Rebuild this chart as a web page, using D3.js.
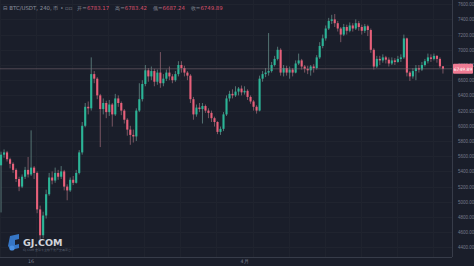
<!DOCTYPE html>
<html>
<head>
<meta charset="utf-8">
<script src="https://cdn.jsdelivr.net/npm/d3@7"></script>
<style>
  body { margin: 0; background: #1a1e2a; }
  svg { display: block; font-family: "DejaVu Sans", sans-serif; }
</style>
</head>
<body>
<svg id="chart"></svg>
<script>
// BTC/USDT 240 candles (open = previous close)
const firstOpen = 5480
const closes = [
  5620, 5650, 5560, 5500, 5420, 5300, 5200, 5330, 5420, 5360,
  5450, 5380, 4900, 4560, 4820, 5100, 5320, 5280, 5380, 5330,
  5400, 5200, 5150, 5290, 5250, 5380, 5650, 6000, 6250, 6230,
  6680, 6620, 6400, 6220, 6300, 6180, 6280, 6150, 6360, 6300,
  6200, 6080, 5950, 5880, 5860, 6200, 6350, 6550, 6730, 6650,
  6720, 6580, 6700, 6560, 6620, 6700, 6650, 6600, 6680, 6800,
  6760, 6700, 6660, 6350, 6150, 6240, 6220, 6260, 6200, 6170,
  6100, 6050, 5920, 5960, 6150, 6360, 6420, 6400, 6450, 6490,
  6440, 6460, 6380, 6320, 6250, 6200, 6620, 6680, 6700, 6720,
  6800, 6880, 7000, 6700, 6760, 6700, 6740, 6700, 6820, 6860,
  6780, 6750, 6730, 6780, 6760, 6900, 7050, 7150, 7280, 7380,
  7400, 7350, 7280, 7200, 7300, 7250, 7320, 7280, 7350, 7300,
  7250, 7310, 7260, 7000, 6780, 6880, 6860, 6900, 6870, 6820,
  6860, 6840, 6880, 6900, 7150, 6700, 6650, 6720, 6760, 6740,
  6800, 6850, 6900, 6880, 6920, 6880, 6783.17, 6749.89
]
const highs = [
  5660, 5690, 5670, 5580, 5520, 5440, 5330, 5360, 5460, 5590,
  5940, 5470, 5400, 4950, 4870, 5160, 5380, 5400, 5450, 5420,
  5470, 5420, 5230, 5320, 5340, 5420, 5680, 6050, 6300, 6320,
  6900, 6720, 6640, 6420, 6360, 6330, 6340, 6300, 6420, 6400,
  6320, 6220, 6100, 6000, 5950, 6230, 6560, 6600, 6800, 6760,
  6780, 6750, 6740, 6970, 6680, 6740, 6780, 6680, 6720, 6850,
  6850, 6790, 6720, 6680, 6380, 6280, 6300, 6300, 6280, 6230,
  6200, 6120, 6060, 5990, 6180, 6400, 6460, 6480, 6520, 6510,
  6530, 6520, 6480, 6400, 6340, 6270, 6660, 6720, 6760, 7220,
  6840, 6920, 7040, 7020, 6800, 6790, 6780, 6760, 6860, 6950,
  6880, 6800, 6790, 6800, 6810, 6930, 7100, 7200, 7320, 7420,
  7460, 7470, 7380, 7300, 7340, 7330, 7360, 7350, 7400, 7380,
  7330, 7340, 7330, 7280, 7020, 6920, 6920, 6940, 6920, 6900,
  6900, 6890, 6920, 6940, 7200, 7160, 6720, 6760, 6800, 6800,
  6840, 6880, 6950, 6940, 6950, 6930, 6900, 6783.42
]
const lows = [
  4860, 5580, 5530, 5440, 5380, 5260, 5140, 5180, 5300, 5320,
  5340, 5300, 4850, 4430, 4520, 4780, 5080, 5230, 5250, 5290,
  5300, 5150, 5020, 5130, 5220, 5240, 5360, 5620, 5980, 6150,
  6200, 6560, 6350, 5720, 6150, 6100, 6130, 5990, 6130, 6250,
  6140, 6030, 5870, 5750, 5780, 5800, 6180, 6320, 6520, 6580,
  6600, 6520, 6540, 6500, 6520, 6590, 6600, 6560, 6580, 6650,
  6700, 6650, 6600, 6300, 6080, 6120, 6180, 6030, 6170, 6100,
  6050, 5990, 5890, 5880, 5930, 6130, 6320, 6360, 6380, 6400,
  6400, 6410, 6340, 6290, 6200, 6160, 6190, 6580, 6640, 6660,
  6700, 6780, 6860, 6660, 6650, 6660, 6620, 6650, 6690, 6800,
  6740, 6700, 6680, 6660, 6700, 6740, 6880, 7020, 7120, 7260,
  7340, 7300, 7240, 7100, 7180, 7200, 7230, 7240, 7260, 7250,
  7200, 7220, 7180, 6960, 6740, 6760, 6800, 6830, 6820, 6780,
  6800, 6800, 6830, 6840, 6880, 6650, 6590, 6620, 6600, 6700,
  6720, 6780, 6820, 6840, 6860, 6830, 6760, 6687.24
]

const yTicks = [7600, 7400, 7200, 7000, 6800, 6600, 6400, 6200, 6000,
                5800, 5600, 5400, 5200, 5000, 4800, 4600, 4400]
const xTickIndex = [10, 81]
const xTickText = ['16', '4月']
const legendKeys = ['开', '高', '低', '收']
const legendVals = ['6783.17', '6783.42', '6687.24', '6749.89']

const W = 474, H = 266
const plotRight = 452, plotBottom = 257

const candles = closes.map((c, i) => ({
  i: i,
  open: i === 0 ? firstOpen : closes[i - 1],
  close: c,
  high: highs[i],
  low: lows[i]
}))

const svg = d3.select('#chart').attr('width', W).attr('height', H)

svg.append('rect').attr('width', W).attr('height', H).attr('fill', '#1a1e2a')

const x = d3.scaleBand()
  .domain(candles.map(d => d.i))
  .range([0, 444])
  .paddingInner(0.3)

const y = d3.scaleLinear()
  .domain([4274, 7655])
  .range([plotBottom, 0])

// grid
const grid = svg.append('g')
grid.selectAll('line.h')
  .data(yTicks)
  .join('line')
    .attr('class', 'h')
    .attr('x1', 0).attr('x2', plotRight)
    .attr('y1', d => Math.round(y(d)) + 0.5).attr('y2', d => Math.round(y(d)) + 0.5)
    .attr('stroke', '#20242f')
grid.selectAll('line.v')
  .data(d3.range(0, closes.length, 12))
  .join('line')
    .attr('class', 'v')
    .attr('x1', d => Math.round(x(d)) + 0.5).attr('x2', d => Math.round(x(d)) + 0.5)
    .attr('y1', 0).attr('y2', plotBottom)
    .attr('stroke', '#1f232e')

// candles
const upCol = '#2bb597', downCol = '#e8607a'
const g = svg.append('g')
g.selectAll('line.wick')
  .data(candles)
  .join('line')
    .attr('class', 'wick')
    .attr('x1', d => x(d.i) + x.bandwidth() / 2)
    .attr('x2', d => x(d.i) + x.bandwidth() / 2)
    .attr('y1', d => y(d.high))
    .attr('y2', d => y(d.low))
    .attr('stroke', d => d.close >= d.open ? '#6f9c95' : '#a8707e')
    .attr('stroke-opacity', 0.85)
    .attr('stroke-width', 0.8)
g.selectAll('rect.body')
  .data(candles)
  .join('rect')
    .attr('class', 'body')
    .attr('x', d => x(d.i))
    .attr('width', x.bandwidth())
    .attr('y', d => y(Math.max(d.open, d.close)))
    .attr('height', d => Math.max(1, Math.abs(y(d.open) - y(d.close))))
    .attr('fill', d => d.close >= d.open ? upCol : downCol)

// last price line
const last = closes[closes.length - 1]
svg.append('line')
  .attr('x1', 0).attr('x2', plotRight)
  .attr('y1', y(last)).attr('y2', y(last))
  .attr('stroke', '#7d6a73').attr('stroke-width', 0.7).attr('stroke-opacity', 0.8)

// axes frame
svg.append('line')
  .attr('x1', plotRight + 0.5).attr('x2', plotRight + 0.5)
  .attr('y1', 0).attr('y2', plotBottom)
  .attr('stroke', '#373c49')
svg.append('line')
  .attr('x1', 0).attr('x2', plotRight)
  .attr('y1', plotBottom + 0.5).attr('y2', plotBottom + 0.5)
  .attr('stroke', '#373c49')

// y axis
const yAxis = d3.axisRight(y).tickValues(yTicks).tickSize(0).tickFormat(d3.format('.2f'))
svg.append('g')
  .attr('transform', `translate(${plotRight + 3},0)`)
  .call(yAxis)
  .call(s => s.select('.domain').remove())
  .call(s => s.selectAll('text').attr('fill', '#767b8a').attr('font-size', 4.5).attr('dx', 0))

// last price tag
const tag = svg.append('g').attr('transform', `translate(${plotRight + 1},${y(last)})`)
tag.append('rect').attr('x', 0).attr('y', -5).attr('width', 20).attr('height', 10)
  .attr('fill', '#ef7b93').attr('rx', 1)
tag.append('text').attr('x', 10).attr('y', 1.8).attr('text-anchor', 'middle')
  .attr('font-size', 4.5).attr('fill', '#fff').text(d3.format('.2f')(last))

// x axis labels
svg.append('g').selectAll('text')
  .data(xTickIndex)
  .join('text')
    .attr('x', d => x(d) + x.bandwidth() / 2)
    .attr('y', 263)
    .attr('text-anchor', 'middle')
    .attr('font-size', 4.8)
    .attr('fill', '#767b8a')
    .text((d, k) => xTickText[k])

// header
const head = svg.append('text').attr('x', 3).attr('y', 10).attr('font-size', 5.4)
head.append('tspan').attr('fill', '#8a909e').text('⊟ BTC/USDT, 240, 币 • ▫▫')
legendKeys.forEach((k, i) => {
  head.append('tspan').attr('fill', '#8a909e').attr('dx', i === 0 ? 5 : 6).text(k + '=')
  head.append('tspan').attr('fill', '#d9506a').text(legendVals[i])
})

// watermark
const wm = svg.append('g').attr('transform', 'translate(8,234)')
wm.append('path').attr('d', 'M2,2 L11,0 L11,5 L7,6 L7,11 L11,10 L11,14 L3,16 L0,12 Z')
  .attr('fill', '#3a7fd6').attr('opacity', 0.9)
wm.append('circle').attr('cx', 4).attr('cy', 14).attr('r', 2.6).attr('fill', '#4a90e2')
wm.append('text').attr('x', 15).attr('y', 11.5).attr('font-size', 9.5).attr('font-weight', 'bold')
  .attr('fill', '#e6e9ef').attr('opacity', 0.9).text('GJ.COM')
wm.append('text').attr('x', 15).attr('y', 17).attr('font-size', 3).attr('fill', '#5f6676')
  .text('GJ.COM 全球专业数字资产交易平台')
</script>
</body>
</html>
